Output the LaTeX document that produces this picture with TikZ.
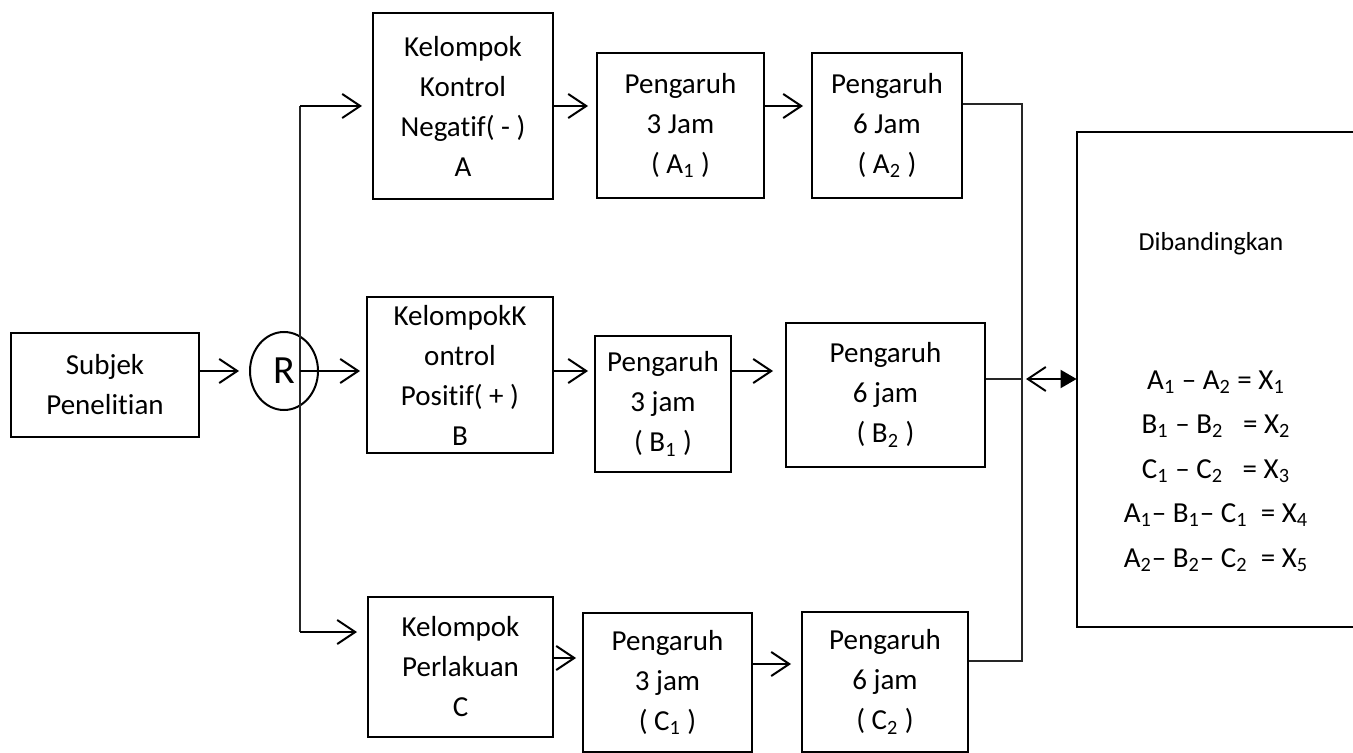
\documentclass[tikz,border=0pt]{standalone}
\usepackage{fontspec}
\setmainfont[Ligatures=NoCommon]{Carlito}
\usetikzlibrary{arrows.meta,shapes.geometric}
\begin{document}
\begin{tikzpicture}[x=0.5pt,y=-0.5pt,
  box/.style={draw,line width=1pt,inner sep=0pt,align=center,font=\fontsize{14.5}{20}\selectfont},
  txt/.style={inner sep=0pt,align=center,font=\fontsize{14.5}{22.25}\selectfont},
  arr/.style={line width=1pt,-{Straight Barb[length=9pt,width=12pt,line width=1pt]},shorten >=3pt},
  thinln/.style={line width=0.6pt,draw=black!85}]
\useasboundingbox (0,0) rectangle (1353,753);
% nodes
\node[box,minimum width=94pt,minimum height=52pt] (subj) at (105,385) {Subjek\\Penelitian};
\node[draw,ellipse,line width=1pt,inner sep=0pt,minimum width=34pt,minimum height=39pt,font=\fontsize{20}{24}\selectfont] (R) at (284,371) {R};
\node[box,minimum width=90pt,minimum height=93pt] (A) at (463,106) {Kelompok\\Kontrol\\Negatif( - )\\A};
\node[box,minimum width=83.5pt,minimum height=72.5pt] (A1) at (680.5,125.5) {Pengaruh\\3 Jam\\( A\textsubscript{1} )};
\node[box,minimum width=75pt,minimum height=72.5pt] (A2) at (887,125.5) {Pengaruh\\6 Jam\\( A\textsubscript{2} )};
\node[box,minimum width=93pt,minimum height=78pt] (B) at (460,375) {KelompokK\\ontrol\\Positif( + )\\B};
\node[box,minimum width=68pt,minimum height=68pt] (B1) at (663,404) {Pengaruh\\3 jam\\( B\textsubscript{1} )};
\node[box,minimum width=99.5pt,minimum height=72pt] (B2) at (885.5,395) {Pengaruh\\6 jam\\( B\textsubscript{2} )};
\node[box,minimum width=92.5pt,minimum height=70pt] (C) at (460.5,667) {Kelompok\\Perlakuan\\C};
\node[box,minimum width=84.5pt,minimum height=69.5pt] (C1) at (667.5,682.5) {Pengaruh\\3 jam\\( C\textsubscript{1} )};
\node[box,minimum width=83pt,minimum height=70pt] (C2) at (885,682) {Pengaruh\\6 jam\\( C\textsubscript{2} )};
\node[inner sep=0pt,minimum width=141.5pt,minimum height=247.5pt] (cmp) at (1218.5,379.5) {};
\draw[line width=1pt] (cmp.north east) -- (cmp.north west) -- (cmp.south west) -- (cmp.south east);
\node[txt,font=\fontsize{13}{16}\selectfont] (title) at (1211,244) {Dibandingkan};
\node[txt] (eqs) at (1216,471) {A\textsubscript{1} – A\textsubscript{2} = X\textsubscript{1}\\
B\textsubscript{1} – B\textsubscript{2}\ \ \ = X\textsubscript{2}\\
C\textsubscript{1} – C\textsubscript{2}\ \ \ = X\textsubscript{3}\\
A\textsubscript{1}– B\textsubscript{1}– C\textsubscript{1}\ \ = X\textsubscript{4}\\
A\textsubscript{2}– B\textsubscript{2}– C\textsubscript{2}\ \ = X\textsubscript{5}};
% coordinates
\coordinate (top) at (300,106);
\coordinate (bot) at (300,632);
\coordinate (brTop) at (1022,104);
\coordinate (brMid) at (1022,379);
\coordinate (brBot) at (1022,661);
\coordinate (cOut) at ([yshift=4.5pt]C.east);
\coordinate (c1Out) at ([yshift=9.25pt]C1.east);
% connectors
\draw[arr,shorten >=5pt] (subj.east |- R.west) -- (R.west);
\draw[thinln] (top) -- (bot);
\draw[arr,shorten >=5pt] (top) -- (A.west |- top);
\draw[arr] (top |- R.east) -- (B.west |- R.east);
\draw[arr,shorten >=5pt] (bot) -- (C.west |- bot);
\draw[arr,shorten >=4pt] (A.east) -- (A1.west |- A.east);
\draw[arr,shorten >=4pt] (A1.east |- A.east) -- (A2.west |- A.east);
\draw[arr] (B.east |- R.east) -- (B1.west |- R.east);
\draw[arr,shorten >=6pt] (B1.east |- R.east) -- (B2.west |- R.east);
\draw[arr] (cOut) -- (C1.west |- cOut);
\draw[arr,shorten >=5pt] (c1Out) -- (C2.west |- c1Out);
\draw[thinln] (A2.east |- brTop) -- (brTop) -- (brBot) -- (C2.east |- brBot);
\draw[thinln] (B2.east |- brMid) -- (brMid);
\draw[line width=1pt,{Straight Barb[length=9pt,width=12pt,line width=1pt]}-{Triangle[length=8pt,width=9pt]},shorten <=2pt] (brMid) -- (cmp.west |- brMid);
\end{tikzpicture}
\end{document}
